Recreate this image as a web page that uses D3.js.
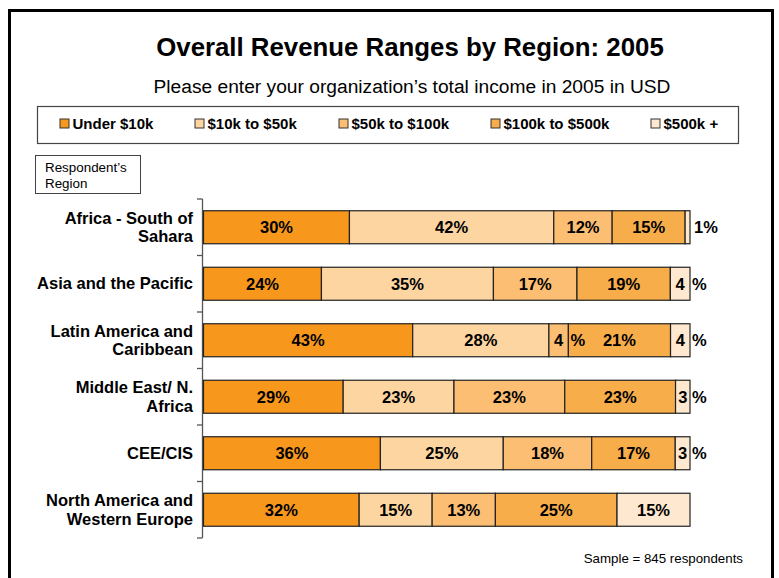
<!DOCTYPE html>
<html>
<head>
<meta charset="utf-8">
<script src="https://cdn.jsdelivr.net/npm/d3@7"></script>
<style>
  body { margin: 0; background: #fff; }
  svg { font-family: "Liberation Sans", Arial, sans-serif; display: block; }
</style>
</head>
<body>
<div id="chart"></div>
<script>
const width = 779
const height = 578

// categories (top to bottom), each label split in lines
const regions = [
  ["Africa - South of", "Sahara"],
  ["Asia and the Pacific"],
  ["Latin America and", "Caribbean"],
  ["Middle East/ N.", "Africa"],
  ["CEE/CIS"],
  ["North America and", "Western Europe"]
]
const ranges = ["Under $10k", "$10k to $50k", "$50k to $100k", "$100k to $500k", "$500k +"]
// percent per region, in range order
const under10k = [30, 24, 43, 29, 36, 32]
const from10to50 = [42, 35, 28, 23, 25, 15]
const from50to100 = [12, 17, 4, 23, 18, 13]
const from100to500 = [15, 19, 21, 23, 17, 25]
const over500k = [1, 4, 4, 3, 3, 15]

const colors = ["#f7981d", "#fcd5a1", "#fbbe73", "#f7ad4a", "#fee8cf"]

const series = [under10k, from10to50, from50to100, from100to500, over500k]
const rows = regions.map(function (r, i) {
  const row = { key: i }
  ranges.forEach(function (k, j) { row[k] = series[j][i] })
  return row
})

const svg = d3.select("#chart")
  .append("svg")
  .attr("width", width)
  .attr("height", height)

// outer frame
svg.append("rect")
  .attr("x", 9.5).attr("y", 10.5)
  .attr("width", 763).attr("height", 600)
  .attr("fill", "none").attr("stroke", "#000").attr("stroke-width", 3)

// titles
svg.append("text")
  .attr("x", 410).attr("y", 56)
  .attr("text-anchor", "middle")
  .style("font-size", "25.8px").style("font-weight", "bold")
  .text("Overall Revenue Ranges by Region: 2005")

svg.append("text")
  .attr("x", 412).attr("y", 93)
  .attr("text-anchor", "middle")
  .style("font-size", "19.2px")
  .text("Please enter your organization\u2019s total income in 2005 in USD")

// legend
svg.append("rect")
  .attr("x", 37.5).attr("y", 106.5)
  .attr("width", 701).attr("height", 37)
  .attr("fill", "none").attr("stroke", "#444").attr("stroke-width", 1.2)

const legendX = [60, 195, 339, 491, 651]
const legend = svg.append("g")
  .selectAll("g")
  .data(ranges)
  .join("g")
  .attr("transform", function (d, i) { return "translate(" + legendX[i] + ",119)" })

legend.append("rect")
  .attr("width", 9).attr("height", 9)
  .attr("fill", function (d, i) { return colors[i] })
  .attr("stroke", "#333").attr("stroke-width", 1)

legend.append("text")
  .attr("x", 12.5).attr("y", 9.8)
  .style("font-size", "15px").style("font-weight", "bold")
  .text(function (d) { return d })

// axis label box
svg.append("rect")
  .attr("x", 35.5).attr("y", 155.5)
  .attr("width", 105).attr("height", 38)
  .attr("fill", "none").attr("stroke", "#444").attr("stroke-width", 1)

svg.append("text")
  .attr("x", 45).attr("y", 172)
  .style("font-size", "13.4px")
  .selectAll("tspan")
  .data(["Respondent\u2019s", "Region"])
  .join("tspan")
  .attr("x", 45)
  .attr("dy", function (d, i) { return i ? 16 : 0 })
  .text(function (d) { return d })

// scales
const y = d3.scaleBand()
  .domain(d3.range(regions.length))
  .range([199, 538])
  .paddingInner(0.416)
  .paddingOuter(0.208)

const x = d3.scaleLinear().domain([0, 1]).range([203.5, 690])

// 100% stacked
const stack = d3.stack().keys(ranges).offset(d3.stackOffsetExpand)
const stacked = stack(rows)

// axis line and ticks between categories
const axis = svg.append("g").attr("stroke", "#555").attr("stroke-width", 1.3)
axis.append("line")
  .attr("x1", 202.5).attr("x2", 202.5)
  .attr("y1", y.range()[0]).attr("y2", y.range()[1])
axis.selectAll(".tick")
  .data(d3.range(regions.length + 1))
  .join("line")
  .attr("class", "tick")
  .attr("x1", 197).attr("x2", 202.5)
  .attr("y1", function (d) { return y.range()[0] + d * y.step() })
  .attr("y2", function (d) { return y.range()[0] + d * y.step() })

// bars
const layer = svg.append("g")
  .selectAll("g")
  .data(stacked)
  .join("g")
  .attr("fill", function (d, i) { return colors[i] })

layer.selectAll("rect")
  .data(function (d) { return d })
  .join("rect")
  .attr("x", function (d) { return x(d[0]) })
  .attr("y", function (d) { return y(d.data.key) })
  .attr("width", function (d) { return x(d[1]) - x(d[0]) })
  .attr("height", y.bandwidth())
  .attr("stroke", "#222").attr("stroke-width", 1.2)

// value labels
const labels = svg.append("g")
  .style("font-size", "16.5px").style("font-weight", "bold")

stacked.forEach(function (s, j) {
  s.forEach(function (d) {
    const v = series[j][d.data.key]
    const x0 = x(d[0])
    const x1 = x(d[1])
    const cy = y(d.data.key) + y.bandwidth() / 2 + 6
    if (v <= 1) {
      labels.append("text")
        .attr("x", x1 + 4).attr("y", cy)
        .text(v + "%")
    } else if (v < 5) {
      labels.append("text")
        .attr("x", (x0 + x1) / 2).attr("y", cy)
        .attr("text-anchor", "middle")
        .text(v)
      labels.append("text")
        .attr("x", x1 + 2).attr("y", cy)
        .text("%")
    } else {
      labels.append("text")
        .attr("x", (x0 + x1) / 2).attr("y", cy)
        .attr("text-anchor", "middle")
        .text(v + "%")
    }
  })
})

// category labels
const cat = svg.append("g")
  .style("font-size", "16.5px").style("font-weight", "bold")
  .selectAll("text")
  .data(regions)
  .join("text")
  .attr("text-anchor", "end")
  .attr("y", function (d, i) {
    return y(i) + y.bandwidth() / 2 + 5.5 - (d.length - 1) * 9.25
  })

cat.selectAll("tspan")
  .data(function (d) { return d })
  .join("tspan")
  .attr("x", 193)
  .attr("dy", function (d, i) { return i ? 18.5 : 0 })
  .text(function (d) { return d })

// footnote
svg.append("text")
  .attr("x", 743).attr("y", 563)
  .attr("text-anchor", "end")
  .style("font-size", "13.3px")
  .text("Sample = 845 respondents")
</script>
</body>
</html>
